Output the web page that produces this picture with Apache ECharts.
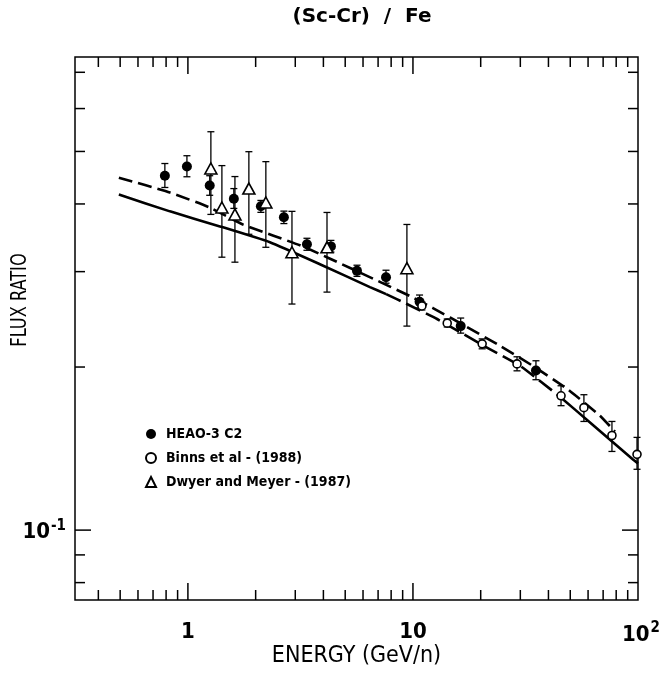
<!DOCTYPE html>
<html><head><meta charset="utf-8">
<script src="https://cdn.jsdelivr.net/npm/echarts@6/dist/echarts.min.js"></script>
<style>html,body{margin:0;padding:0;background:#fff}#c{width:670px;height:673px}</style>
</head><body><div id="c"></div>
<script>
// ---- data ----
const titleText = '(Sc-Cr)  /  Fe';
const xName = 'ENERGY (GeV/n)';
const yName = 'FLUX RATIO';
const xMin = 0.315, xMax = 100;
const yMin = 0.0743, yMax = 0.747;

const heaoX  = [0.79, 0.99, 1.25, 1.60, 2.11, 2.67, 3.38, 4.32, 5.64, 7.59, 10.7, 16.3, 35.2];
const heaoY  = [0.451, 0.469, 0.4325, 0.409, 0.396, 0.378, 0.337, 0.334, 0.301, 0.293, 0.264, 0.238, 0.197];
const heaoLo = [0.429, 0.449, 0.415, 0.3925, 0.386, 0.368, 0.3285, 0.326, 0.294, 0.2856, 0.257, 0.231, 0.1895];
const heaoHi = [0.475, 0.491, 0.451, 0.427, 0.406, 0.388, 0.3457, 0.3426, 0.3083, 0.3018, 0.2716, 0.2463, 0.2054];

const binnsX  = [10.96, 14.2, 20.3, 29.0, 45.5, 57.5, 76.6, 99];
const binnsY  = [0.2593, 0.241, 0.2207, 0.2027, 0.177, 0.1683, 0.1495, 0.138];
const binnsLo = [0.2549, 0.2371, 0.2161, 0.1968, 0.1697, 0.1587, 0.1397, 0.1295];
const binnsHi = [0.2636, 0.2453, 0.2254, 0.2089, 0.1847, 0.1778, 0.1587, 0.1483];

const dwyerX  = [1.265, 1.416, 1.618, 1.866, 2.22, 2.90, 4.15, 9.40];
const dwyerY  = [0.465, 0.394, 0.3826, 0.427, 0.4025, 0.3258, 0.3327, 0.3044];
const dwyerLo = [0.3826, 0.319, 0.3123, 0.3516, 0.3327, 0.2614, 0.275, 0.238];
const dwyerHi = [0.5437, 0.4708, 0.4494, 0.4995, 0.4788, 0.3876, 0.3858, 0.3666];

const upperCurve = [[0.4934,0.4473],[0.832,0.42],[1.25,0.394],[1.755,0.3666],[3.24,0.334],[5.41,0.303],[9.7,0.2704],[12.27,0.257],[17.38,0.2371],[24.4,0.2188],[34.1,0.201],[48.3,0.1824],[67.7,0.1627],[79,0.152]];
const lowerCurveA = [[0.4934,0.4164],[0.832,0.3876],[1.388,0.3636],[2.314,0.3399],[3.86,0.3096],[6.44,0.2809],[7.6,0.2727]];
const lowerCurveB = [[7.6,0.2727],[9.4,0.2614],[12.8,0.2453],[19.9,0.2207],[29.9,0.201],[45,0.1763]];
const lowerCurveC = [[45,0.1763],[61.2,0.158],[95,0.135],[100,0.1328]];

const xTickVals = [0.4,0.5,0.6,0.7,0.8,0.9,1,2,3,4,5,6,7,8,9,10,20,30,40,50,60,70,80,90];
const xMajorVals = [1,10];
const yTickVals = [0.08,0.09,0.1,0.2,0.3,0.4,0.5,0.6,0.7];
const yMajorVals = [0.1];
const xLabelVals = [1, 10, 100];
const xLabelBase = ['1', '10', '10'];
const xLabelSup  = ['', '', '2'];
const yLabelVals = [0.1];
const yLabelBase = ['10'];
const yLabelSup  = ['-1'];
const legendNames = ['HEAO-3 C2', 'Binns et al - (1988)', 'Dwyer and Meyer - (1987)'];

// ---- chart ----
const FONT = "'Liberation Sans Narrow','DejaVu Sans Condensed',sans-serif";
const chart = echarts.init(document.getElementById('c'));
const yRef = 0.2, xRef = 1;

function pairs(xs, ys){ return xs.map((x,i)=>[x, ys[i]]); }
function errData(xs, lo, hi){ return xs.map((x,i)=>[x, lo[i], hi[i]]); }

function errItem(params, api){
  const x = api.value(0);
  const p1 = api.coord([x, api.value(1)]);
  const p2 = api.coord([x, api.value(2)]);
  const w = 3.5;
  const st = {stroke:'#000', lineWidth:1.3};
  return {type:'group', children:[
    {type:'line', shape:{x1:p1[0],y1:p1[1],x2:p2[0],y2:p2[1]}, style:st},
    {type:'line', shape:{x1:p1[0]-w,y1:p1[1],x2:p1[0]+w,y2:p1[1]}, style:st},
    {type:'line', shape:{x1:p2[0]-w,y1:p2[1],x2:p2[0]+w,y2:p2[1]}, style:st}
  ]};
}
function xTickItem(params, api){
  const cs = params.coordSys;
  const v = api.value(0);
  const px = api.coord([v, yRef])[0];
  const len = xMajorVals.indexOf(v) >= 0 ? 17 : 10;
  const st = {stroke:'#000', lineWidth:1.5};
  const b = cs.y + cs.height, t = cs.y;
  return {type:'group', children:[
    {type:'line', shape:{x1:px,y1:b,x2:px,y2:b-len}, style:st},
    {type:'line', shape:{x1:px,y1:t,x2:px,y2:t+len}, style:st}
  ]};
}
function yTickItem(params, api){
  const cs = params.coordSys;
  const v = api.value(1);
  const py = api.coord([xRef, v])[1];
  const len = yMajorVals.indexOf(v) >= 0 ? 16 : 10;
  const st = {stroke:'#000', lineWidth:1.5};
  const l = cs.x, r = cs.x + cs.width;
  return {type:'group', children:[
    {type:'line', shape:{x1:l,y1:py,x2:l+len,y2:py}, style:st},
    {type:'line', shape:{x1:r,y1:py,x2:r-len,y2:py}, style:st}
  ]};
}
const rich = {
  b:{fontFamily:FONT, fontSize:22, fontWeight:'bold', color:'#000'},
  s:{fontFamily:FONT, fontSize:15, fontWeight:'bold', color:'#000', verticalAlign:'top', padding:[0,0,13,1]}
};
function xLabelItem(params, api){
  const cs = params.coordSys;
  const i = params.dataIndex;
  const px = api.coord([api.value(0), yRef])[0];
  const txt = '{b|' + xLabelBase[i] + '}' + (xLabelSup[i] ? '{s|' + xLabelSup[i] + '}' : '');
  return {type:'text', x: px + (xLabelSup[i] ? 3 : 0), y: cs.y + cs.height + 21,
    style:{text: txt, rich: rich, align:'center', verticalAlign:'top'}};
}
function yLabelItem(params, api){
  const cs = params.coordSys;
  const i = params.dataIndex;
  const py = api.coord([xRef, api.value(1)])[1];
  const txt = '{b|' + yLabelBase[i] + '}{s|' + yLabelSup[i] + '}';
  return {type:'text', x: cs.x - 9, y: py + 2, style:{text: txt, rich: rich, align:'right', verticalAlign:'middle'}};
}

const lineBase = {type:'line', showSymbol:false, silent:true, smooth:0.15, z:3};

chart.setOption({
  animation:false,
  backgroundColor:'#fff',
  title:{text:titleText, left:357, textAlign:'center', top:2,
    textStyle:{fontFamily:"'DejaVu Sans',sans-serif", fontSize:20, fontWeight:'bold', color:'#000'}},
  grid:{left:75, right:32, top:57, bottom:71, show:true, borderColor:'#000', borderWidth:1.5, backgroundColor:'transparent'},
  legend:{orient:'vertical', left:140, top:422, itemGap:10, itemWidth:10, itemHeight:10,
    data:legendNames, selectedMode:false,
    textStyle:{fontFamily:FONT, fontSize:14, fontWeight:'bold', color:'#000', padding:[0,0,0,5]}},
  graphic:[{type:'text', x:20, y:300, rotation:Math.PI/2, scaleX:0.82,
    style:{text:yName, fontFamily:FONT, fontSize:22, fill:'#000', align:'center', verticalAlign:'middle'}}],
  xAxis:{type:'log', logBase:10, min:xMin, max:xMax, axisLine:{show:false}, axisTick:{show:false},
    axisLabel:{show:false}, splitLine:{show:false}, minorTick:{show:false},
    name:xName, nameLocation:'middle', nameGap:45,
    nameTextStyle:{fontFamily:FONT, fontSize:23, color:'#000'}},
  yAxis:{type:'log', logBase:10, min:yMin, max:yMax, axisLine:{show:false}, axisTick:{show:false},
    axisLabel:{show:false}, splitLine:{show:false}},
  series:[
    {type:'custom', silent:true, renderItem:xTickItem, data:xTickVals.map(v=>[v, yRef]), z:1, clip:false},
    {type:'custom', silent:true, renderItem:yTickItem, data:yTickVals.map(v=>[xRef, v]), z:1, clip:false},
    {type:'custom', silent:true, renderItem:xLabelItem, data:xLabelVals.map(v=>[v, yRef]), z:1, clip:false},
    {type:'custom', silent:true, renderItem:yLabelItem, data:yLabelVals.map(v=>[xRef, v]), z:1, clip:false},
    Object.assign({}, lineBase, {data:upperCurve, lineStyle:{color:'#000', width:2.6, type:[14,6]}}),
    Object.assign({}, lineBase, {data:lowerCurveA, lineStyle:{color:'#000', width:2.6}}),
    Object.assign({}, lineBase, {data:lowerCurveB, lineStyle:{color:'#000', width:2.6, type:[16,6]}}),
    Object.assign({}, lineBase, {data:lowerCurveC, lineStyle:{color:'#000', width:2.6}}),
    {type:'custom', silent:true, renderItem:errItem, data:errData(heaoX, heaoLo, heaoHi), z:4},
    {type:'custom', silent:true, renderItem:errItem, data:errData(binnsX, binnsLo, binnsHi), z:4},
    {type:'custom', silent:true, renderItem:errItem, data:errData(dwyerX, dwyerLo, dwyerHi), z:4},
    {name:legendNames[0], type:'scatter', data:pairs(heaoX, heaoY), symbol:'circle', symbolSize:10,
      itemStyle:{color:'#000', borderColor:'#000', borderWidth:0, opacity:1}, z:5},
    {name:legendNames[1], type:'scatter', data:pairs(binnsX, binnsY), symbol:'circle', symbolSize:8,
      itemStyle:{color:'#fff', borderColor:'#000', borderWidth:1.6, opacity:1}, z:5},
    {name:legendNames[2], type:'scatter', data:pairs(dwyerX, dwyerY), symbol:'triangle', symbolSize:[12,11],
      itemStyle:{color:'#fff', borderColor:'#000', borderWidth:1.6, opacity:1}, z:5}
  ]
});
</script></body></html>
